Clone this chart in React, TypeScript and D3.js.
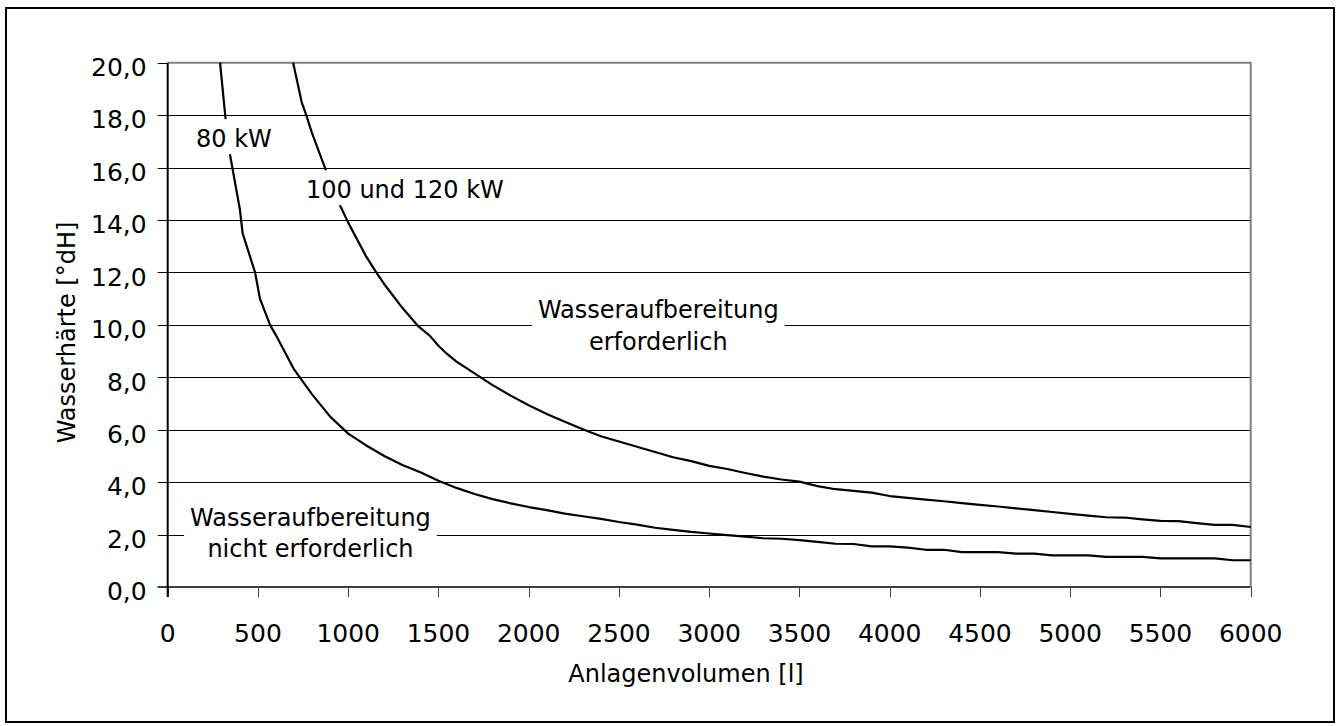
import { useEffect, useRef } from "react"
import * as d3 from "d3"

// 80 kW curve: volume [l] and water hardness [°dH]
const vol80 = [290, 320, 345, 400, 415, 484, 511, 567, 600, 700, 800, 900, 1000, 1100, 1200, 1300, 1400, 1500, 1600, 1700, 1800, 1900, 2000, 2100, 2200, 2300, 2400, 2500, 2600, 2700, 2800, 2900, 3000, 3100, 3200, 3300, 3400, 3500, 3600, 3700, 3800, 3900, 4000, 4100, 4200, 4300, 4400, 4500, 4600, 4700, 4800, 4900, 5000, 5100, 5200, 5300, 5400, 5500, 5600, 5700, 5800, 5900, 6000]
const hard80 = [20.0, 17.9, 16.5, 14.4, 13.5, 12.0, 11.0, 10.0, 9.6, 8.3, 7.35, 6.5, 5.85, 5.4, 5.0, 4.65, 4.38, 4.05, 3.78, 3.55, 3.35, 3.19, 3.05, 2.93, 2.8, 2.7, 2.6, 2.48, 2.38, 2.26, 2.18, 2.1, 2.04, 1.98, 1.92, 1.86, 1.84, 1.79, 1.72, 1.65, 1.64, 1.55, 1.55, 1.5, 1.42, 1.42, 1.33, 1.33, 1.33, 1.27, 1.27, 1.21, 1.21, 1.21, 1.15, 1.15, 1.15, 1.09, 1.09, 1.09, 1.09, 1.02, 1.02]

// 100 und 120 kW curve
const vol100 = [695, 742, 770, 800, 871, 900, 955, 1000, 1100, 1158, 1200, 1300, 1389, 1453, 1500, 1546, 1600, 1700, 1800, 1900, 2000, 2100, 2200, 2300, 2400, 2500, 2600, 2700, 2800, 2900, 3000, 3100, 3200, 3300, 3400, 3500, 3600, 3700, 3800, 3900, 4000, 4100, 4200, 4300, 4400, 4500, 4600, 4700, 4800, 4900, 5000, 5100, 5200, 5300, 5400, 5500, 5600, 5700, 5800, 5900, 6000]
const hard100 = [20.0, 18.5, 17.95, 17.3, 16.0, 15.3, 14.55, 13.9, 12.6, 11.97, 11.55, 10.65, 9.94, 9.58, 9.2, 8.9, 8.6, 8.15, 7.7, 7.3, 6.93, 6.6, 6.3, 6.02, 5.75, 5.55, 5.35, 5.15, 4.95, 4.8, 4.62, 4.5, 4.35, 4.21, 4.1, 4.02, 3.85, 3.73, 3.67, 3.6, 3.47, 3.4, 3.33, 3.27, 3.2, 3.13, 3.07, 3.0, 2.93, 2.86, 2.79, 2.72, 2.66, 2.65, 2.58, 2.52, 2.51, 2.44, 2.37, 2.37, 2.29]

const xTicks = [0, 500, 1000, 1500, 2000, 2500, 3000, 3500, 4000, 4500, 5000, 5500, 6000]
const yTicks = [0, 2, 4, 6, 8, 10, 12, 14, 16, 18, 20]

// annotation text, anchored in data units (volume, hardness) at first baseline
const noteLines = [["80 kW"], ["100 und 120 kW"], ["Wasseraufbereitung", "erforderlich"], ["Wasseraufbereitung", "nicht erforderlich"]]
const noteVol = [367, 1314, 2718, 791]
const noteHard = [16.78, 14.83, 10.25, 2.34]

const FONT = "'DejaVu Sans', sans-serif"

export default function App() {
  const svgRef = useRef<SVGSVGElement>(null)
  const width = 1336
  const height = 726

  useEffect(() => {
    if (!svgRef.current) return
    const svg = d3.select(svgRef.current)
    svg.selectAll("*").remove()

    const x = d3.scaleLinear().domain([0, 6000]).range([167.7, 1250.7])
    const y = d3.scaleLinear().domain([0, 20]).range([587, 62.7])
    const crisp = (v: number) => Math.round(v) + 0.5

    svg.append("rect")
      .attr("x", 6).attr("y", 8)
      .attr("width", 1328).attr("height", 714)
      .attr("fill", "#fff").attr("stroke", "#000").attr("stroke-width", 2)

    // horizontal grid
    svg.append("g")
      .selectAll("line")
      .data(yTicks.filter(t => t > 0 && t < 20))
      .join("line")
      .attr("x1", x(0)).attr("x2", x(6000))
      .attr("y1", d => crisp(y(d))).attr("y2", d => crisp(y(d)))
      .attr("stroke", "#000").attr("stroke-width", 1)

    // frame top + right
    svg.append("path")
      .attr("d", `M${x(0)},${y(20)}H${x(6000)}V${y(0)}`)
      .attr("fill", "none").attr("stroke", "#808080").attr("stroke-width", 2)

    // curves
    const g = svg.append("g")
    const line = d3.line<number>().x(d => x(d))
    const series = [
      { vol: vol80, hard: hard80 },
      { vol: vol100, hard: hard100 },
    ]
    series.forEach(s => {
      g.append("path")
        .datum(s.vol)
        .attr("d", line.y((_, i) => y(s.hard[i])))
        .attr("fill", "none")
        .attr("stroke", "#000")
        .attr("stroke-width", 2.2)
        .attr("stroke-linejoin", "round")
    })

    // annotations with white boxes
    noteLines.forEach((lines, i) => {
      const ng = svg.append("g")
      const cx = x(noteVol[i])
      const by = y(noteHard[i])
      const bg = ng.append("rect").attr("fill", "#fff")
      const t = ng.append("text")
        .attr("font-family", FONT).attr("font-size", 24)
        .attr("text-anchor", "middle").attr("fill", "#000")
      lines.forEach((l, j) => {
        t.append("tspan").attr("x", cx).attr("y", by + j * 31.5).text(l)
      })
      const bb = (t.node() as SVGTextElement).getBBox()
      bg.attr("x", bb.x - 6).attr("y", bb.y - 6)
        .attr("width", bb.width + 12).attr("height", bb.height + 7)
    })

    // y axis
    const ya = svg.append("g")
    ya.selectAll("line")
      .data(yTicks)
      .join("line")
      .attr("x1", x(0) - 10).attr("x2", x(0))
      .attr("y1", d => crisp(y(d))).attr("y2", d => crisp(y(d)))
      .attr("stroke", "#000").attr("stroke-width", 1)
    ya.selectAll("text")
      .data(yTicks)
      .join("text")
      .attr("x", x(0) - 21)
      .attr("y", d => y(d) + 13.3)
      .attr("text-anchor", "end")
      .attr("font-family", FONT).attr("font-size", 25)
      .attr("fill", "#000")
      .text(d => d3.format(".1f")(d).replace(".", ","))

    // x axis
    const xa = svg.append("g")
    xa.selectAll("line")
      .data(xTicks)
      .join("line")
      .attr("x1", d => crisp(x(d))).attr("x2", d => crisp(x(d)))
      .attr("y1", y(0)).attr("y2", y(0) + 10)
      .attr("stroke", "#404040").attr("stroke-width", 1)
    xa.selectAll("text")
      .data(xTicks)
      .join("text")
      .attr("x", d => x(d))
      .attr("y", y(0) + 54.7)
      .attr("text-anchor", "middle")
      .attr("font-family", FONT).attr("font-size", 25)
      .attr("fill", "#000")
      .text(d => String(d))

    svg.append("line")
      .attr("x1", x(0) - 10).attr("x2", x(6000))
      .attr("y1", y(0)).attr("y2", y(0))
      .attr("stroke", "#404040").attr("stroke-width", 2)
    svg.append("line")
      .attr("x1", x(0)).attr("x2", x(0))
      .attr("y1", y(20)).attr("y2", y(0) + 10)
      .attr("stroke", "#000").attr("stroke-width", 2)

    // axis titles
    svg.append("text")
      .attr("x", 686).attr("y", 681.7)
      .attr("text-anchor", "middle")
      .attr("font-family", FONT).attr("font-size", 24)
      .attr("fill", "#000")
      .text("Anlagenvolumen [l]")
    svg.append("text")
      .attr("transform", "translate(74.5,332.5) rotate(-90)")
      .attr("text-anchor", "middle")
      .attr("font-family", FONT).attr("font-size", 24)
      .attr("fill", "#000")
      .text("Wasserhärte [°dH]")
  }, [])

  return (
    <>
      <style>{`body{margin:0;background:#fff}`}</style>
      <svg ref={svgRef} width={width} height={height} style={{ display: "block" }} />
    </>
  )
}
